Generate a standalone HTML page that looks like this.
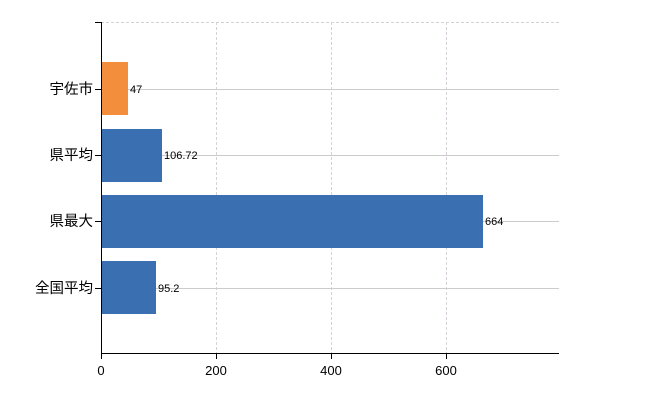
<html><body style="margin:0;background:#fff">
<svg width="650" height="400" xmlns="http://www.w3.org/2000/svg" font-family="Liberation Sans, Noto Sans CJK JP, sans-serif">
<g stroke="#d8d0d8" stroke-dasharray="3,2">
<line x1="101" y1="22.5" x2="559" y2="22.5"/>
<line x1="216.5" y1="22" x2="216.5" y2="353"/>
<line x1="331.5" y1="22" x2="331.5" y2="353"/>
<line x1="446.5" y1="22" x2="446.5" y2="353"/>
</g>
<g stroke="#cccccc">
<line x1="101" y1="89.5" x2="559" y2="89.5"/>
<line x1="101" y1="155.5" x2="559" y2="155.5"/>
<line x1="101" y1="221.5" x2="559" y2="221.5"/>
<line x1="101" y1="288.5" x2="559" y2="288.5"/>
</g>
<rect x="101" y="62" width="27" height="53" fill="#f28e3c"/>
<rect x="101" y="129" width="61" height="53" fill="#3a6fb2"/>
<rect x="101" y="195" width="382" height="53" fill="#3a6fb2"/>
<rect x="101" y="261" width="55" height="53" fill="#3a6fb2"/>
<g font-size="11" fill="#000">
<text x="130" y="93">47</text>
<text x="164" y="159">106.72</text>
<text x="485" y="225">664</text>
<text x="158" y="292">95.2</text>
</g>
<g stroke="#000">
<line x1="101.5" y1="22" x2="101.5" y2="354"/>
<line x1="101" y1="353.5" x2="559" y2="353.5"/>
<line x1="95" y1="22.5" x2="101" y2="22.5"/>
<line x1="95" y1="89.5" x2="101" y2="89.5"/>
<line x1="95" y1="155.5" x2="101" y2="155.5"/>
<line x1="95" y1="221.5" x2="101" y2="221.5"/>
<line x1="95" y1="288.5" x2="101" y2="288.5"/>
<line x1="101.5" y1="353" x2="101.5" y2="359"/>
<line x1="216.5" y1="353" x2="216.5" y2="359"/>
<line x1="331.5" y1="353" x2="331.5" y2="359"/>
<line x1="446.5" y1="353" x2="446.5" y2="359"/>
</g>
<g font-size="14.5" fill="#000" text-anchor="end">
<text x="93" y="94">宇佐市</text>
<text x="93" y="160">県平均</text>
<text x="93" y="226">県最大</text>
<text x="93" y="293">全国平均</text>
</g>
<g font-size="13" fill="#000" text-anchor="middle">
<text x="101" y="375">0</text>
<text x="216" y="375">200</text>
<text x="331" y="375">400</text>
<text x="446" y="375">600</text>
</g>
</svg>
</body></html>
